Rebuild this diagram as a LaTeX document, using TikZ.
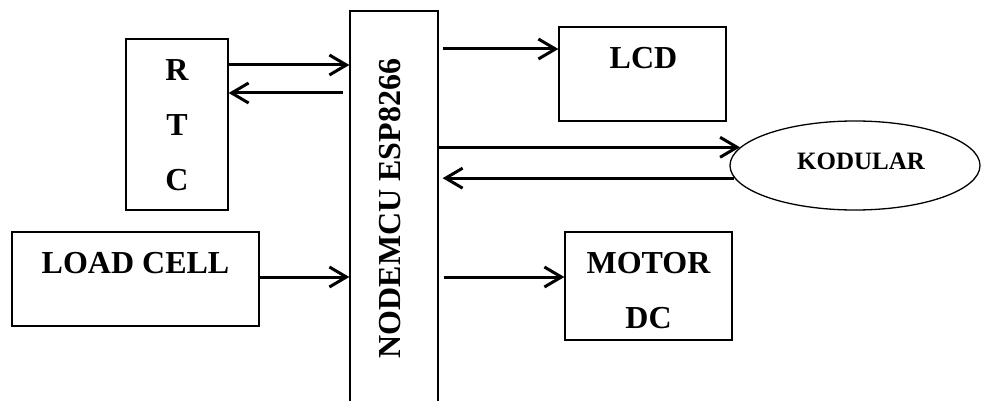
\documentclass[tikz,border=0pt]{standalone}
\usepackage{fontspec}
\setmainfont{Liberation Serif}
\usetikzlibrary{arrows.meta,calc,shapes.geometric}
\begin{document}
\begin{tikzpicture}[x=1pt,y=-1pt,
  box/.style={draw,line width=1.3pt,inner sep=0pt},
  lbl/.style={font=\fontsize{32}{55}\selectfont\bfseries,align=center,inner sep=0pt},
  arr/.style={line width=3pt,-{Straight Barb[length=17pt,width=20pt]}}]
\useasboundingbox (0,0) rectangle (982,401);
\clip (0,0) rectangle (982,401);
% blocks
\node[box,minimum width=102pt,minimum height=171pt] (rtc) at (177,124.5) {};
\node[lbl] (rtct) at (177,125.5) {R\\T\\C};
\node[box,minimum width=88pt,minimum height=395pt] (nm) at (394,208.5) {};
\node[lbl,rotate=90] (nmt) at (390,208.5) {NODEMCU ESP8266};
\node[box,minimum width=167pt,minimum height=94pt] (lcd) at (642.5,74) {};
\node[lbl] (lcdt) at (643.5,58) {LCD};
\node[box,ellipse,minimum width=250pt,minimum height=89pt] (kod) at (855,165.5) {};
\node[font=\fontsize{25}{30}\selectfont\bfseries,inner sep=0pt] (kodt) at (861,161) {KODULAR};
\node[box,minimum width=247pt,minimum height=94pt] (load) at (135.5,279) {};
\node[lbl] (loadt) at (135.5,263) {LOAD CELL};
\node[box,minimum width=167pt,minimum height=108pt] (motor) at (648.5,286) {};
\node[lbl] (motort) at (648.5,290.5) {MOTOR\\DC};
% connectors
\draw[arr] ($(rtc.east)+(0,59.5pt)$) -- ($(rtc.east -| nm.west)+(0,59.5pt)$);
\draw[arr,shorten <=6pt] ($(rtc.east -| nm.west)+(0,31.5pt)$) -- ($(rtc.east)+(0,31.5pt)$);
\draw[arr,shorten <=4pt] ($(lcd.west -| nm.east)+(0,25pt)$) -- ($(lcd.west)+(0,25pt)$);
\draw[arr] (kod.171.9 -| nm.east) -- (kod.171.9);
\draw[arr,shorten >=4pt] (kod.186) -- (kod.186 -| nm.east);
\draw[arr] ($(load.east)+(0,2pt)$) -- ($(load.east -| nm.west)+(0,2pt)$);
\draw[arr,shorten <=5pt] ($(motor.west -| nm.east)+(0,9pt)$) -- ($(motor.west)+(0,9pt)$);
\end{tikzpicture}
\end{document}
